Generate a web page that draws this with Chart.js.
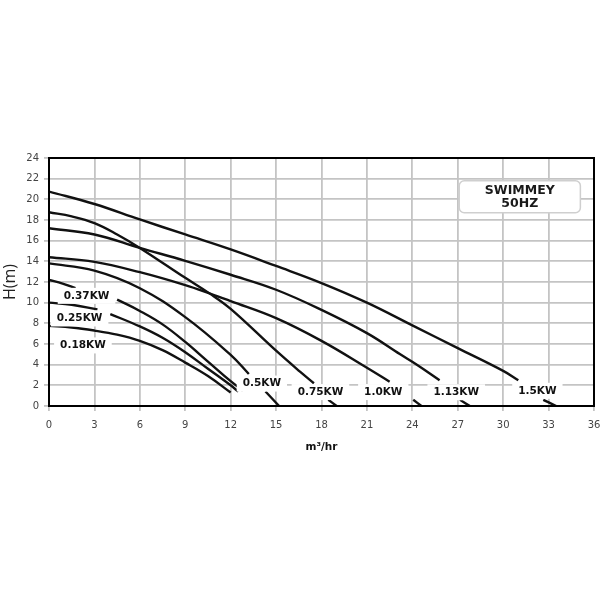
<!DOCTYPE html>
<html>
<head>
<meta charset="utf-8">
<script src="https://cdn.jsdelivr.net/npm/chart.js@4.4.1/dist/chart.umd.min.js"></script>
<style>
  html, body { margin: 0; padding: 0; background: #fff; overflow: hidden; }
  #wrap { width: 603px; height: 603px; position: relative; }
</style>
</head>
<body>
<div id="wrap"><canvas id="pumpChart"></canvas></div>
<script>
// pump curves, flow in m3/hr and head in m (null = break in the drawn curve)
const flow018 = [0, 1.5, 3, 4.5, 6, 7.5, 9, 10.5, 12];
const head018 = [7.75, 7.6, 7.3, 6.9, 6.3, 5.4, 4.2, 2.9, 1.3];

const flow025 = [0, 1.5, 3.2, 3.6, 4.05, 6, 7.5, 9, 10.5, 12, 12.5];
const head025 = [10.0, 9.8, 9.35, null, 8.9, 7.7, 6.6, 5.2, 3.6, 2.0, 1.4];

const flow037 = [0, 0.9, 1.75, 3, 4.5, 6, 7.5, 9, 10.5, 12, 12.8];
const head037 = [12.2, 11.85, 11.4, null, 10.3, 9.2, 7.9, 6.2, 4.3, 2.4, 1.5];

const flow05 = [0, 3, 6, 9, 12, 13.2, 13.8, 14.3, 15.2];
const head05 = [13.8, 13.1, 11.4, 8.6, 4.95, 3.1, null, 1.4, 0];

const flow075 = [0, 1.5, 3, 4.5, 6, 9, 10.6, 12, 15, 16.6, 17.5, 18, 18.45, 19.0];
const head075 = [18.75, 18.35, 17.7, 16.6, 15.3, 12.4, 10.9, 9.4, 5.35, 3.3, 2.2, null, 0.6, 0];

const flow10 = [0, 3, 6, 9, 10.6, 12, 15, 18, 21, 22.5, 23.3, 24.06, 24.6];
const head10 = [14.4, 13.95, 12.95, 11.7, 10.9, 10.15, 8.5, 6.3, 3.7, 2.35, null, 0.6, 0];

const flow113 = [0, 3, 6, 9, 12, 15, 18, 21, 23.2, 24.3, 25.8, 26.5, 27.15, 27.8];
const head113 = [17.2, 16.6, 15.3, 14.05, 12.7, 11.25, 9.3, 7.05, 5.0, 4.0, 2.5, null, 0.6, 0];

const flow15 = [0, 3, 6, 9, 12, 15, 18, 21, 24, 27, 30, 31, 31.8, 32.65, 33.5];
const head15 = [20.75, 19.55, 18.05, 16.6, 15.15, 13.55, 11.9, 10.0, 7.8, 5.6, 3.4, 2.5, null, 0.6, 0];

// curve labels
const labelNames = ['0.37KW', '0.25KW', '0.18KW', '0.5KW', '0.75KW', '1.0KW', '1.13KW', '1.5KW'];
const labelFlow = [2.48, 2.02, 2.24, 14.06, 17.93, 22.08, 26.9, 32.26];
const labelHead = [10.66, 8.47, 5.86, 2.17, 1.35, 1.35, 1.33, 1.47];

const xTicks = [0, 3, 6, 9, 12, 15, 18, 21, 24, 27, 30, 33, 36];
const yTicks = [0, 2, 4, 6, 8, 10, 12, 14, 16, 18, 20, 22, 24];

function pts(xs, ys) {
    return xs.map((x, i) => ({ x: x, y: ys[i] }));
}

function curve(xs, ys) {
    return {
        data: pts(xs, ys),
        borderColor: '#111',
        borderWidth: 2.4,
        pointRadius: 0,
        fill: false,
        spanGaps: false,
        tension: 0.4
    };
}

// labels with white boxes, the title box and the frame round the plot
const overlay = {
    id: 'overlay',
    afterDatasetsDraw(chart) {
        const ctx = chart.ctx;
        const xs = chart.scales.x, ys = chart.scales.y;
        const a = chart.chartArea;
        ctx.save();
        ctx.font = 'bold 10.5px "DejaVu Sans"';
        ctx.textAlign = 'center';
        ctx.textBaseline = 'middle';
        labelNames.forEach((name, i) => {
            const px = xs.getPixelForValue(labelFlow[i]);
            const py = ys.getPixelForValue(labelHead[i]);
            const w = ctx.measureText(name).width;
            ctx.fillStyle = '#fff';
            ctx.fillRect(px - w / 2 - 6, py - 8, w + 12, 16);
            ctx.fillStyle = '#111';
            ctx.fillText(name, px, py);
        });

        // SWIMMEY box
        const bx1 = xs.getPixelForValue(27.1), bx2 = xs.getPixelForValue(35.1);
        const by1 = ys.getPixelForValue(21.8), by2 = ys.getPixelForValue(18.7);
        ctx.beginPath();
        ctx.roundRect(bx1, by1, bx2 - bx1, by2 - by1, 5);
        ctx.fillStyle = '#fff';
        ctx.fill();
        ctx.lineWidth = 1.5;
        ctx.strokeStyle = '#cfcfcf';
        ctx.stroke();
        ctx.fillStyle = '#1a1a1a';
        ctx.font = 'bold 12.5px "DejaVu Sans"';
        const cx = (bx1 + bx2) / 2;
        ctx.fillText('SWIMMEY', cx, by1 + 10.5);
        ctx.fillText('50HZ', cx, by1 + 23.5);

        // frame
        ctx.lineWidth = 2;
        ctx.strokeStyle = '#000';
        ctx.strokeRect(a.left, a.top, a.right - a.left, a.bottom - a.top);
        ctx.restore();
    }
};

const chart = new Chart(document.getElementById('pumpChart').getContext('2d'), {
    type: 'line',
    data: {
        datasets: [
            curve(flow018, head018),
            curve(flow025, head025),
            curve(flow037, head037),
            curve(flow05, head05),
            curve(flow075, head075),
            curve(flow10, head10),
            curve(flow113, head113),
            curve(flow15, head15)
        ]
    },
    options: {
        responsive: true,
        maintainAspectRatio: false,
        animation: false,
        layout: {
            padding: { left: 1, right: 9, top: 158, bottom: 149 }
        },
        plugins: {
            legend: { display: false },
            tooltip: { enabled: false }
        },
        scales: {
            x: {
                type: 'linear',
                min: 0,
                max: 36,
                afterBuildTicks: axis => { axis.ticks = xTicks.map(v => ({ value: v })); },
                afterFit: axis => {
                    axis.height = 48;
                    axis.paddingLeft = 3;
                    axis.paddingRight = 6;
                },
                ticks: {
                    color: '#444',
                    font: { family: 'DejaVu Sans', size: 10 },
                    padding: 8,
                    maxRotation: 0
                },
                grid: { color: '#c4c4c4', lineWidth: 1.8, tickLength: 5, tickColor: '#c4c4c4' },
                border: { display: false },
                title: {
                    display: true,
                    text: 'm³/hr',
                    color: '#111',
                    font: { family: 'DejaVu Sans', size: 10.5, weight: 'bold' },
                    padding: { top: 11, bottom: 0 }
                }
            },
            y: {
                min: 0,
                max: 24,
                afterBuildTicks: axis => { axis.ticks = yTicks.map(v => ({ value: v })); },
                afterFit: axis => { axis.width = 48; },
                ticks: {
                    color: '#444',
                    font: { family: 'DejaVu Sans', size: 10 },
                    padding: 5
                },
                grid: { color: '#c4c4c4', lineWidth: 1.8, tickLength: 5, tickColor: '#c4c4c4' },
                border: { display: false },
                title: {
                    display: true,
                    text: 'H(m)',
                    color: '#222',
                    font: { family: 'Open Sans', size: 16 },
                    padding: { top: 0, bottom: 3 }
                }
            }
        }
    },
    plugins: [overlay]
});
</script>
</body>
</html>
